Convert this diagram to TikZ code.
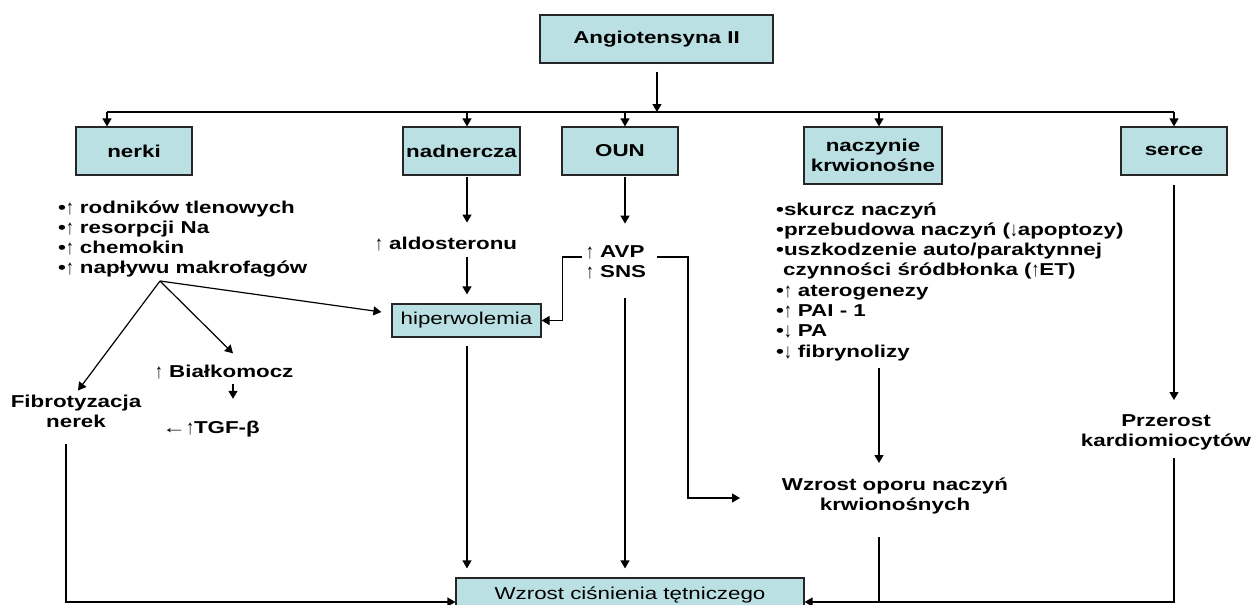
\documentclass[tikz,border=0pt]{standalone}
\usepackage{fontspec}
\setmainfont{Liberation Sans}[FakeStretch=1.3]
\newfontfamily\arrfont{Liberation Sans}
\usetikzlibrary{arrows.meta,calc}
\definecolor{boxfill}{RGB}{187,224,227}
\newcommand{\fs}{\fontsize{17.2}{20.3}\selectfont}
\newcommand{\uarr}{\raisebox{-1pt}{\scalebox{0.9}[1.2]{\arrfont\mdseries ↑}}}
\newcommand{\darr}{\raisebox{-1pt}{\scalebox{0.9}[1.2]{\arrfont\mdseries ↓}}}
\newcommand{\larr}{\scalebox{1.4}[1]{\arrfont\mdseries ←}}
\tikzset{
  box/.style={draw=black!85,line width=1.2pt,fill=boxfill,inner sep=0pt,align=center,font=\fs\bfseries},
  lbl/.style={inner sep=0pt,font=\fs\bfseries},
  conn/.style={line width=1.2pt,-{Triangle[length=8pt,width=9pt]}},
  plain/.style={line width=1.2pt},
}
\begin{document}
\begin{tikzpicture}[x=1pt,y=-1pt]
\useasboundingbox (0,0) rectangle (1254,605);
% boxes
\node[box,minimum width=233pt,minimum height=48pt] (ang) at (656.5,39) {Angiotensyna II};
\node[box,minimum width=116pt,minimum height=48pt] (nerki) at (134,151) {nerki};
\node[box,minimum width=117pt,minimum height=48pt] (nadn) at (461.5,151) {nadnercza};
\node[box,minimum width=116pt,minimum height=48pt] (oun) at (620,151) {OUN};
\node[box,minimum width=138pt,minimum height=57pt] (nacz) at (873,155.5) {naczynie\\krwionośne};
\node[box,minimum width=106pt,minimum height=48pt] (serce) at (1174,151) {serce};
\node[box,font=\fs,minimum width=149pt,minimum height=33pt] (hip) at (466.5,320.5) {hiperwolemia};
\node[box,font=\fs,minimum width=348pt,minimum height=34pt] (wz) at (630,595) {Wzrost ciśnienia tętniczego};
% texts (base anchor = baseline of the last line)
\node[lbl,align=left,anchor=base west] (nl) at (58,273.9) {•\uarr\ rodników tlenowych\\•\uarr\ resorpcji Na\\•\uarr\ chemokin\\•\uarr\ napływu makrofagów};
\node[lbl,anchor=base west] (ald) at (375,249) {\uarr\ aldosteronu};
\node[lbl,align=left,anchor=base west] (avp) at (586,277.3) {\uarr\ AVP\\\uarr\ SNS};
\node[lbl,align=left,anchor=base west] (vl) at (776,357.1) {•skurcz naczyń\\•przebudowa naczyń (\darr apoptozy)\\•uszkodzenie auto/paraktynnej\\\hspace*{7pt}czynności śródbłonka (\uarr ET)\\•\uarr\ aterogenezy\\•\uarr\ PAI - 1\\•\darr\ PA\\•\darr\ fibrynolizy};
\node[lbl,anchor=base west] (bial) at (155,377) {\uarr\ Białkomocz};
\node[lbl,anchor=base west] (tgf) at (162,433) {\larr\uarr TGF-β};
\node[lbl,align=center,anchor=base] (fib) at (76,427.5) {Fibrotyzacja\\nerek};
\node[lbl,align=center,anchor=base] (wop) at (895,510.5) {Wzrost oporu naczyń\\krwionośnych};
\node[lbl,align=center,anchor=base] (prz) at (1166,446.5) {Przerost\\kardiomiocytów};
% top distribution
\coordinate (bus) at (657,112);
\coordinate (bL) at (107,112);
\coordinate (bR) at (1174,112);
\draw[conn] ($(ang.south)+(0.5,8)$) -- (bus);
\draw[plain] (bL) -- (bR);
\draw[conn] (bL) -- (bL |- nerki.north);
\draw[conn] ($(nadn.north)+(5.5,-15)$) -- ($(nadn.north)+(5.5,0)$);
\draw[conn] ($(oun.north)+(5,-15)$) -- ($(oun.north)+(5,0)$);
\draw[conn] ($(nacz.north)+(6,-15)$) -- ($(nacz.north)+(6,0)$);
\draw[conn] (bR) -- (serce.north);
% kidney
\coordinate (k) at (160,281);
\draw[conn] (k) -- ($(hip.west)+(-10,-8.5)$);
\draw[conn] (k) -- ($(bial.north west)+(78,-11)$);
\draw[conn] (k) -- ($(fib.north)+(2,-4)$);
\draw[conn] ($(bial.south west)+(78,5)$) -- ($(bial.south west)+(78,20)$);
\draw[conn] ($(fib.south)+(-10,16)$) |- ($(wz.west)+(0,7)$);
% adrenal
\draw[conn] ($(nadn.south)+(5.5,1)$) -- ($(nadn.south)+(5.5,47)$);
\draw[conn] ($(nadn.south)+(5.5,81)$) -- ($(hip.north)+(0.5,-9)$);
\draw[conn] ($(hip.south)+(0.5,8)$) -- ($(wz.north)+(-163,-9)$);
% OUN
\draw[conn] ($(oun.south)+(5,1)$) -- ($(oun.south)+(5,48)$);
\draw[conn] ($(oun.south)+(5,122)$) -- ($(wz.north)+(-5,-9)$);
\coordinate (avpR) at (657,257);
\coordinate (snsL) at (582,257);
\coordinate (wopL) at (740,498);
\draw[conn] (avpR) -- (688,257) -- (688,498) -- (wopL);
\draw[conn] (snsL) -| ($(hip.east)+(21,0)$) -- (hip.east);
% vessels
\draw[conn] (879,368) -- (879,463);
\draw[plain] (879,537) -- (879,602);
% heart
\draw[conn] ($(serce.south)+(0,9)$) -- (1174,400);
\draw[conn] (1174,458) |- ($(wz.east)+(0,7)$);
\end{tikzpicture}
\end{document}
